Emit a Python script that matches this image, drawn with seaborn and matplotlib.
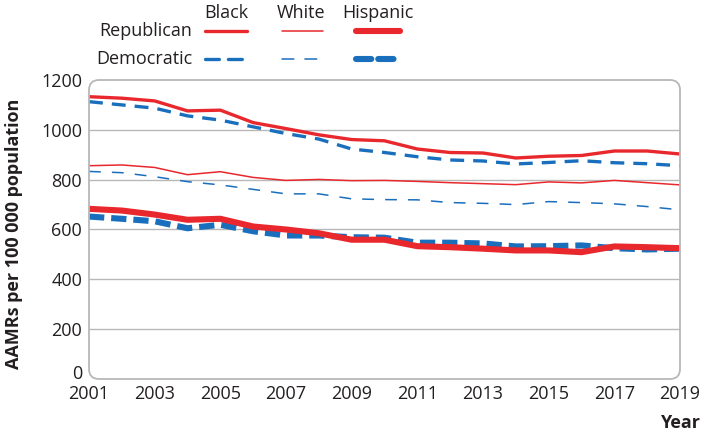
import numpy as np
import pandas as pd
import matplotlib.pyplot as plt
import seaborn as sns
from matplotlib.patches import FancyBboxPatch
from matplotlib.lines import Line2D
from matplotlib.transforms import ScaledTranslation

years = list(range(2001, 2020))
rep_black = [1133, 1127, 1116, 1076, 1079, 1029, 1005, 980, 961, 956, 923, 909, 907, 887, 894, 897, 915, 915, 903]
dem_black = [1113, 1100, 1087, 1056, 1039, 1012, 985, 963, 923, 909, 892, 879, 875, 863, 869, 876, 868, 864, 856]
rep_white = [856, 859, 849, 820, 832, 809, 797, 801, 796, 797, 793, 788, 784, 780, 791, 787, 797, 788, 779]
dem_white = [833, 828, 812, 792, 779, 761, 743, 743, 723, 720, 719, 708, 705, 700, 712, 708, 703, 692, 679]
rep_hisp = [683, 676, 660, 639, 643, 612, 600, 585, 559, 559, 533, 529, 523, 516, 516, 509, 532, 529, 525]
dem_hisp = [652, 643, 633, 605, 619, 593, 576, 576, 569, 567, 547, 547, 544, 532, 533, 536, 525, 520, 523]

parties = ["Democratic", "Republican"]
races = ["Black", "White", "Hispanic"]
y_ticks = [0, 200, 400, 600, 800, 1000, 1200]

series = {
    ("Democratic", "Black"): dem_black,
    ("Democratic", "White"): dem_white,
    ("Democratic", "Hispanic"): dem_hisp,
    ("Republican", "Black"): rep_black,
    ("Republican", "White"): rep_white,
    ("Republican", "Hispanic"): rep_hisp,
}
rows = []
for (party, race), vals in series.items():
    for yr, v in zip(years, vals):
        rows.append({"Year": yr, "AAMR": v, "Party": party, "Race": race,
                     "Series": f"{party} {race}"})
df = pd.DataFrame(rows)

RED = "#e8282d"
BLUE = "#1a6fbd"
GRID = "#b8b8b8"
TXT = "#231f20"

sns.set_style("white")
plt.rcParams["font.family"] = ["Open Sans", "DejaVu Sans"]
plt.rcParams["lines.scale_dashes"] = False
plt.rcParams["text.color"] = TXT

widths = {"Black": 2.4, "White": 1.1, "Hispanic": 4.4}
dash_map = {
    "Democratic Black": (10, 6.5),
    "Democratic White": (8.5, 8),
    "Democratic Hispanic": (11, 5),
    "Republican Black": "",
    "Republican White": "",
    "Republican Hispanic": "",
}

fig = plt.figure(figsize=(7.04, 4.4), dpi=100)
ax = fig.add_axes([89 / 704, 1 - 379 / 440, (680 - 89) / 704, (379 - 80) / 440])

sns.lineplot(data=df, x="Year", y="AAMR", hue="Party", size="Race", style="Series",
             palette={"Republican": RED, "Democratic": BLUE},
             sizes=widths, size_order=races, dashes=dash_map,
             hue_order=parties, errorbar=None, legend=False, ax=ax)
for ln in ax.get_lines():
    ln.set_dash_capstyle("butt")
    ln.set_solid_capstyle("butt")

ax.set_xlim(2001, 2019)
ax.set_ylim(0, 1200)
ax.set_yticks(y_ticks)
ax.set_yticklabels([str(v) for v in y_ticks])
ax.set_xticks(years)
ax.set_xticklabels([str(y) if y % 2 else "" for y in years])
ax.tick_params(axis="y", length=0, pad=5, labelsize=13, labelcolor=TXT)
ax.tick_params(axis="x", direction="in", length=5, width=1, color=GRID,
               pad=4, labelsize=13, labelcolor=TXT)
xt = ax.xaxis.get_major_ticks()
xt[0].tick1line.set_visible(False)
xt[-1].tick1line.set_visible(False)
# lift the "0" label a little so it clears "2001"
zero_lbl = ax.get_yticklabels()[0]
zero_lbl.set_transform(zero_lbl.get_transform() + ScaledTranslation(0, 5 / 72, fig.dpi_scale_trans))
ax.yaxis.grid(True, color=GRID, lw=1)
gl = ax.get_ygridlines()
gl[0].set_visible(False)
gl[-1].set_visible(False)
ax.set_axisbelow(True)
ax.set_xlabel("")
ax.set_ylabel("")
for s in ax.spines.values():
    s.set_visible(False)

# rounded frame
fig.add_artist(FancyBboxPatch((89 / 100, (440 - 379) / 100), (680 - 89) / 100, (379 - 80) / 100,
                              boxstyle="round,pad=0,rounding_size=0.1",
                              transform=fig.dpi_scale_trans, fill=False,
                              ec=GRID, lw=1.3, zorder=5))

fig.text(14 / 704, 1 - 234 / 440, "AAMRs per 100 000 population", rotation=90,
         ha="center", va="center", fontsize=13, fontweight="bold")
fig.text(660 / 704, 1 - 423 / 440, "Year", ha="left", va="center",
         fontsize=13, fontweight="bold")

# custom legend
col_x = {"Black": (205, 247), "White": (282, 323), "Hispanic": (356, 400)}
col_c = {"Black": 226, "White": 301, "Hispanic": 378}
row_y = {"Republican": 31, "Democratic": 59}
for race in races:
    fig.text(col_c[race] / 704, 1 - 13 / 440, race, ha="center", va="center", fontsize=13)
for party in parties:
    fig.text(192 / 704, 1 - row_y[party] / 440, party, ha="right", va="center", fontsize=13)
    for race in races:
        x0, x1 = col_x[race]
        yy = 1 - row_y[party] / 440
        kw = dict(color=RED if party == "Republican" else BLUE, lw=widths[race],
                  transform=fig.transFigure, solid_capstyle="round", dash_capstyle="round")
        if party == "Democratic":
            kw["dashes"] = dash_map[f"{party} {race}"]
        fig.add_artist(Line2D([x0 / 704, x1 / 704], [yy, yy], **kw))

fig.savefig("out.png", dpi=100)
